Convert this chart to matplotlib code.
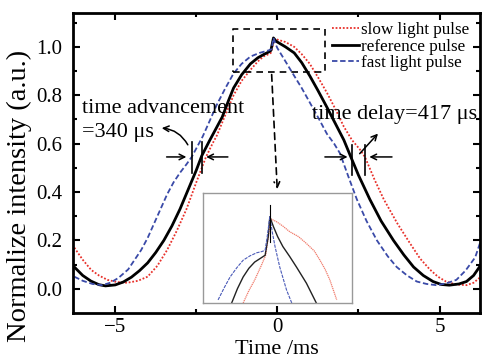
import matplotlib
matplotlib.use("Agg")
import matplotlib.pyplot as plt

plt.rcParams['font.family'] = ['Liberation Serif', 'DejaVu Serif']

# main curves (time in ms, normalized intensity)
t_ref = [-6.26, -6.0, -5.75, -5.5, -5.3, -5.0, -4.75, -4.5, -4.25, -4.0, -3.75, -3.5,
         -3.25, -3.0, -2.75, -2.5, -2.33, -2.1, -1.9, -1.7, -1.5, -1.35, -1.1, -0.83,
         -0.6, -0.4, -0.28, -0.2, -0.12, -0.05, 0.0, 0.25, 0.52, 0.75, 1.0, 1.25, 1.53,
         1.8, 2.05, 2.25, 2.5, 2.85, 3.2, 3.58, 3.9, 4.2, 4.5, 4.8, 5.05, 5.3, 5.6,
         5.83, 6.05, 6.23]
v_ref = [0.09, 0.055, 0.032, 0.017, 0.012, 0.016, 0.028, 0.048, 0.075, 0.107, 0.15, 0.20,
         0.26, 0.33, 0.41, 0.49, 0.55, 0.61, 0.66, 0.71, 0.78, 0.83, 0.885, 0.93,
         0.955, 0.97, 0.978, 0.985, 1.037, 1.025, 1.02, 1.0, 0.975, 0.935, 0.88, 0.82, 0.75,
         0.68, 0.615, 0.55, 0.47, 0.37, 0.28, 0.20, 0.14, 0.09, 0.055, 0.03, 0.018, 0.015, 0.02,
         0.03, 0.055, 0.09]

t_fast = [-6.26, -6.0, -5.7, -5.4, -5.15, -4.9, -4.6, -4.4, -4.2, -4.0, -3.8, -3.6,
          -3.4, -3.2, -3.0, -2.8, -2.64, -2.48, -2.3, -2.1, -1.87, -1.6, -1.35, -1.1,
          -0.83, -0.55, -0.28, -0.18, -0.12, -0.05, 0.0, 0.25, 0.52, 0.75, 1.0, 1.25,
          1.53, 1.75, 1.93, 2.2, 2.45, 2.75, 3.07, 3.4, 3.68, 4.0, 4.3, 4.6, 4.9, 5.2,
          5.52, 5.8, 6.1, 6.25]
v_fast = [0.05, 0.033, 0.02, 0.015, 0.025, 0.045, 0.08, 0.12, 0.16, 0.21, 0.27, 0.33,
          0.39, 0.44, 0.48, 0.515, 0.545, 0.585, 0.63, 0.69, 0.76, 0.83, 0.89, 0.93,
          0.96, 0.975, 0.985, 0.99, 1.037, 1.01, 0.995, 0.94, 0.88, 0.83, 0.77, 0.71,
          0.64, 0.60, 0.56, 0.46, 0.37, 0.28, 0.20, 0.135, 0.09, 0.055, 0.03, 0.02, 0.015, 0.022,
          0.037, 0.075, 0.13, 0.19]

t_slow = [-6.26, -6.0, -5.74, -5.5, -5.24, -4.95, -4.63, -4.3, -4.0, -3.7, -3.4, -3.1,
          -2.8, -2.5, -2.2, -2.0, -1.86, -1.6, -1.35, -1.1, -0.83, -0.6, -0.43, -0.3,
          -0.2, -0.09, 0.0, 0.25, 0.52, 0.75, 1.0, 1.25, 1.53, 1.8, 2.05, 2.3, 2.55,
          2.7, 3.0, 3.28, 3.7, 4.08, 4.4, 4.7, 4.95, 5.2, 5.5, 5.83, 6.05, 6.23]
v_slow = [0.17, 0.12, 0.078, 0.055, 0.037, 0.028, 0.025, 0.033, 0.05, 0.095, 0.16, 0.24,
          0.33, 0.44, 0.545, 0.60, 0.635, 0.72, 0.80, 0.86, 0.905, 0.94, 0.96, 0.968,
          0.975, 1.033, 1.03, 1.02, 1.0, 0.97, 0.93, 0.875, 0.81, 0.74, 0.67, 0.615, 0.575,
          0.545, 0.45, 0.37, 0.27, 0.19, 0.125, 0.08, 0.05, 0.03, 0.018, 0.015, 0.025, 0.045]

# zoomed curves shown in the inset
ti_fast = [-1.09, -0.97, -0.86, -0.73, -0.61, -0.48, -0.35, -0.25, -0.19, -0.15, -0.10,
           -0.05, 0.0, 0.09, 0.22, 0.32]
vi_fast = [0.902, 0.922, 0.939, 0.954, 0.966, 0.973, 0.978, 0.980, 0.982, 1.004, 1.036,
           1.01, 0.988, 0.955, 0.918, 0.897]
ti_ref = [-0.83, -0.72, -0.61, -0.5, -0.39, -0.28, -0.19, -0.13, -0.10, -0.03, 0.05, 0.15,
          0.28, 0.41, 0.6, 0.79]
vi_ref = [0.897, 0.92, 0.939, 0.953, 0.963, 0.969, 0.974, 1.004, 1.036, 1.02, 1.004, 0.988,
          0.972, 0.955, 0.929, 0.897]
ti_slow = [-0.61, -0.5, -0.39, -0.26, -0.18, -0.11, -0.09, 0.03, 0.15, 0.28, 0.45, 0.6,
           0.75, 0.86, 0.96, 1.05, 1.18]
vi_slow = [0.897, 0.917, 0.934, 0.958, 0.974, 1.014, 1.033, 1.028, 1.021, 1.012, 1.004, 0.993,
           0.981, 0.966, 0.951, 0.934, 0.902]
spike_t = [-0.10, -0.10]
spike_v = [0.995, 1.055]

# zoom box
box_t = [-1.38, 1.47, 1.47, -1.38, -1.38]
box_v = [0.897, 0.897, 1.074, 1.074, 0.897]

red = '#e8302a'
blue = '#3a4aa8'

fig = plt.figure(figsize=(4.82, 3.61), dpi=100)
ax = fig.add_axes([0.1515, 0.133, 0.8445, 0.831])

ax.plot(t_slow, v_slow, color=red, lw=1.3, ls=(0, (1, 1)), label='slow light pulse')
ax.plot(t_ref, v_ref, color='black', lw=2.0, label='reference pulse')
ax.plot(t_fast, v_fast, color=blue, lw=1.3, ls=(0, (3, 1.5)), label='fast light pulse')

ax.plot(box_t, box_v, color='black', lw=1.2, ls=(0, (4, 3)))
ax.annotate('', xy=(0.0, 0.40), xytext=(-0.18, 0.897),
            arrowprops=dict(arrowstyle='->', color='black', lw=1.2, ls=(0, (4, 3))))

ax.set_xlim(-6.3, 6.25)
ax.set_ylim(-0.1, 1.14)
ax.set_xticks([-5, 0, 5])
ax.set_xticklabels(['\u22125', '0', '5'])
ax.set_xticks([-2.5, 2.5], minor=True)
ax.set_yticks([0.0, 0.2, 0.4, 0.6, 0.8, 1.0])
ax.set_yticks([0.1, 0.3, 0.5, 0.7, 0.9, 1.1], minor=True)
ax.tick_params(which='both', direction='in', top=True, right=True, width=1.5, labelsize=15)
ax.tick_params(which='major', length=5)
ax.tick_params(which='minor', length=3)
ax.tick_params(axis='y', pad=8)
for s in ax.spines.values():
    s.set_linewidth(2)

ax.set_xlabel('Time /ms', fontsize=16, labelpad=2)
ax.set_ylabel('Normalize intensity (a.u.)', fontsize=20.5)
ax.yaxis.set_label_coords(-0.1, 0.39)

ax.legend(loc='upper left', bbox_to_anchor=(0.688, 0.94), bbox_transform=fig.transFigure,
          frameon=False, fontsize=12.3, handlelength=1.6, handletextpad=0.1,
          labelspacing=0.05, borderpad=0, borderaxespad=0)

# time advancement marks
ax.text(-6.02, 0.745, 'time advancement', fontsize=16, va='center')
ax.text(-6.02, 0.645, '=340 \u03bcs', fontsize=16, va='center')
ax.plot([-2.64, -2.64], [0.48, 0.607], color='black', lw=1.2)
ax.plot([-2.33, -2.33], [0.48, 0.607], color='black', lw=1.2)
ax.annotate('', xy=(-2.72, 0.545), xytext=(-3.5, 0.545),
            arrowprops=dict(arrowstyle='->', color='black', lw=1.1))
ax.annotate('', xy=(-2.28, 0.545), xytext=(-1.44, 0.545),
            arrowprops=dict(arrowstyle='->', color='black', lw=1.1))
ax.annotate('', xy=(-3.65, 0.665), xytext=(-2.72, 0.585),
            arrowprops=dict(arrowstyle='->', color='black', lw=1.1,
                            connectionstyle='arc3,rad=0.3'))

# time delay marks
ax.text(1.07, 0.72, 'time delay=417 \u03bcs', fontsize=16, va='center')
ax.plot([2.3, 2.3], [0.47, 0.595], color='black', lw=1.2)
ax.plot([2.7, 2.7], [0.47, 0.595], color='black', lw=1.2)
ax.annotate('', xy=(2.25, 0.545), xytext=(1.38, 0.545),
            arrowprops=dict(arrowstyle='->', color='black', lw=1.1))
ax.annotate('', xy=(2.75, 0.545), xytext=(3.62, 0.545),
            arrowprops=dict(arrowstyle='->', color='black', lw=1.1))
ax.annotate('', xy=(3.16, 0.65), xytext=(2.48, 0.55),
            arrowprops=dict(arrowstyle='->', color='black', lw=1.1))

# inset
ins = fig.add_axes([0.421, 0.1607, 0.309, 0.304])
ins.plot(ti_slow, vi_slow, color='#f07a6a', lw=0.9, ls=(0, (1, 0.6)))
ins.plot(ti_ref, vi_ref, color='#222222', lw=1.0)
ins.plot(ti_fast, vi_fast, color='#4a5ab8', lw=0.8, ls=(0, (3, 1)))
ins.plot(spike_t, spike_v, color='black', lw=0.8)
ins.set_xlim(-1.38, 1.47)
ins.set_ylim(0.897, 1.074)
ins.set_xticks([])
ins.set_yticks([])
for s in ins.spines.values():
    s.set_color('#999999')
    s.set_linewidth(1)

fig.savefig('out.png', dpi=100)
